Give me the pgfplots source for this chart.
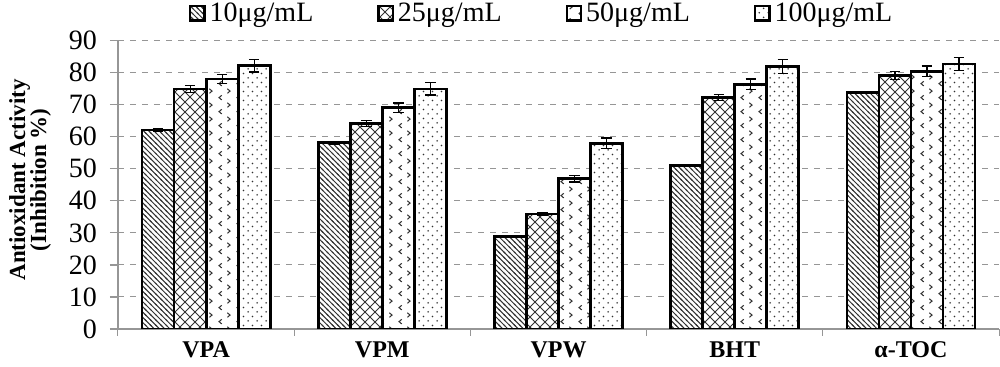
\documentclass[border=0pt]{standalone}
\usepackage{fontspec}
\setmainfont{Liberation Serif}
\usepackage{pgfplots}
\pgfplotsset{compat=1.18}
\usetikzlibrary{patterns.meta}

\definecolor{pat}{RGB}{50,50,50}
\definecolor{axgray}{RGB}{150,150,150}

\tikzdeclarepattern{
  name=hatchNW, type=uncolored,
  bounding box={(-1pt,-1pt) and (3.6pt,3.6pt)},
  tile size={(2.6pt,2.6pt)},
  code={\pgfsetlinewidth{0.5pt}
    \pgfpathmoveto{\pgfpoint{-0.4pt}{3.0pt}}
    \pgfpathlineto{\pgfpoint{3.0pt}{-0.4pt}}
    \pgfusepath{stroke}}
}
\tikzdeclarepattern{
  name=xhatch, type=uncolored,
  bounding box={(-1pt,-1pt) and (6pt,6pt)},
  tile size={(5pt,5pt)},
  code={\pgfsetlinewidth{0.5pt}
    \pgfpathmoveto{\pgfpoint{-0.3pt}{-0.3pt}}
    \pgfpathlineto{\pgfpoint{5.3pt}{5.3pt}}
    \pgfpathmoveto{\pgfpoint{-0.3pt}{5.3pt}}
    \pgfpathlineto{\pgfpoint{5.3pt}{-0.3pt}}
    \pgfusepath{stroke}}
}
\tikzdeclarepattern{
  name=chev, type=uncolored,
  bounding box={(0pt,0pt) and (9pt,7pt)},
  tile size={(9pt,7pt)},
  code={\pgfsetlinewidth{0.55pt}
    \pgfpathmoveto{\pgfpoint{3.0pt}{3.0pt}}
    \pgfpathlineto{\pgfpoint{1.6pt}{1.8pt}}
    \pgfpathlineto{\pgfpoint{3.0pt}{0.6pt}}
    \pgfpathmoveto{\pgfpoint{6.0pt}{6.5pt}}
    \pgfpathlineto{\pgfpoint{7.4pt}{5.3pt}}
    \pgfpathlineto{\pgfpoint{6.0pt}{4.1pt}}
    \pgfusepath{stroke}}
}
\tikzdeclarepattern{
  name=dotsp, type=uncolored,
  bounding box={(0pt,0pt) and (4.4pt,4.4pt)},
  tile size={(4.4pt,4.4pt)},
  code={
    \pgfpathcircle{\pgfpoint{1.1pt}{1.1pt}}{0.45pt}
    \pgfpathcircle{\pgfpoint{3.3pt}{3.3pt}}{0.45pt}
    \pgfusepath{fill}}
}

\begin{document}
\begin{tikzpicture}
\useasboundingbox (-59pt,-19pt) rectangle (441pt,164.5pt);
\begin{axis}[
  at={(0pt,0pt)}, anchor=south west,
  scale only axis,
  width=440.5pt, height=144.2pt,
  xmin=-0.5, xmax=4.5,
  ymin=0, ymax=90,
  ytick={0,10,...,90},
  xtick={0,1,2,3,4},
  xticklabels={VPA,VPM,VPW,BHT,α-TOC},
  minor xtick={-0.5,0.5,1.5,2.5,3.5,4.5},
  axis x line*=bottom, axis y line*=left,
  axis line style={axgray, line width=0.6pt},
  x axis line style={-}, y axis line style={-},
  tick align=outside,
  major tick length=4pt,
  minor tick length=3.5pt,
  x tick style={draw=none},
  minor x tick style={draw=axgray, line width=0.5pt},
  y tick style={axgray, line width=0.6pt},
  ymajorgrids,
  grid style={dashed, axgray, line width=0.5pt},
  /pgf/number format/assume math mode=true,
  yticklabel style={font=\fontsize{14}{14}\selectfont, xshift=-3pt},
  xticklabel style={font=\bfseries\fontsize{12}{12}\selectfont, yshift=1pt},
  ylabel={Antioxidant Activity\\(Inhibition \%)},
  ylabel style={font=\bfseries\fontsize{11.5}{10.5}\selectfont, align=center,
     at={(axis description cs:-0.0999,0.517)}, anchor=center},
  ybar=0pt, bar width=16pt,
  error bars/y dir=both, error bars/y explicit,
  error bars/error bar style={black, line width=0.6pt},
  error bars/error mark options={rotate=90, mark size=2.6pt, black, line width=0.6pt},
  legend columns=4,
  legend style={draw=none, fill=none, at={(0.482,1)}, anchor=south, yshift=4pt,
    font=\fontsize{14}{14}\selectfont,
    /tikz/every even column/.append style={column sep=30pt},
    nodes={inner xsep=2pt}},
  legend image code/.code={\draw[#1, line width=1.1pt] (0pt,-3.6pt) rectangle (7.2pt,3.6pt);},
  every axis plot/.append style={draw=black, line width=1.4pt},
]
\addplot[fill=white, postaction={pattern={hatchNW}, pattern color=pat}]
 coordinates {(0,62.1) +- (0,0.4) (1,58.1) +- (0,0.4) (2,28.9) +- (0,0.3) (3,51.0) +- (0,0.3) (4,73.8) +- (0,0.4)};
\addplot[fill=white, postaction={pattern={xhatch}, pattern color=pat}]
 coordinates {(0,74.9) +- (0,1.0) (1,64.1) +- (0,0.9) (2,35.9) +- (0,0.5) (3,72.2) +- (0,1.0) (4,79.1) +- (0,1.2)};
\addplot[fill=white, postaction={pattern={chev}, pattern color=pat}]
 coordinates {(0,78.0) +- (0,1.4) (1,69.0) +- (0,1.5) (2,46.9) +- (0,1.0) (3,76.4) +- (0,1.6) (4,80.4) +- (0,1.7)};
\addplot[fill=white, postaction={pattern={dotsp}, pattern color=pat}]
 coordinates {(0,82.2) +- (0,2.0) (1,74.9) +- (0,1.9) (2,58.0) +- (0,1.6) (3,81.9) +- (0,2.1) (4,82.7) +- (0,2.1)};
\legend{10μg/mL,25μg/mL,50μg/mL,100μg/mL}
\end{axis}
\end{tikzpicture}
\end{document}
